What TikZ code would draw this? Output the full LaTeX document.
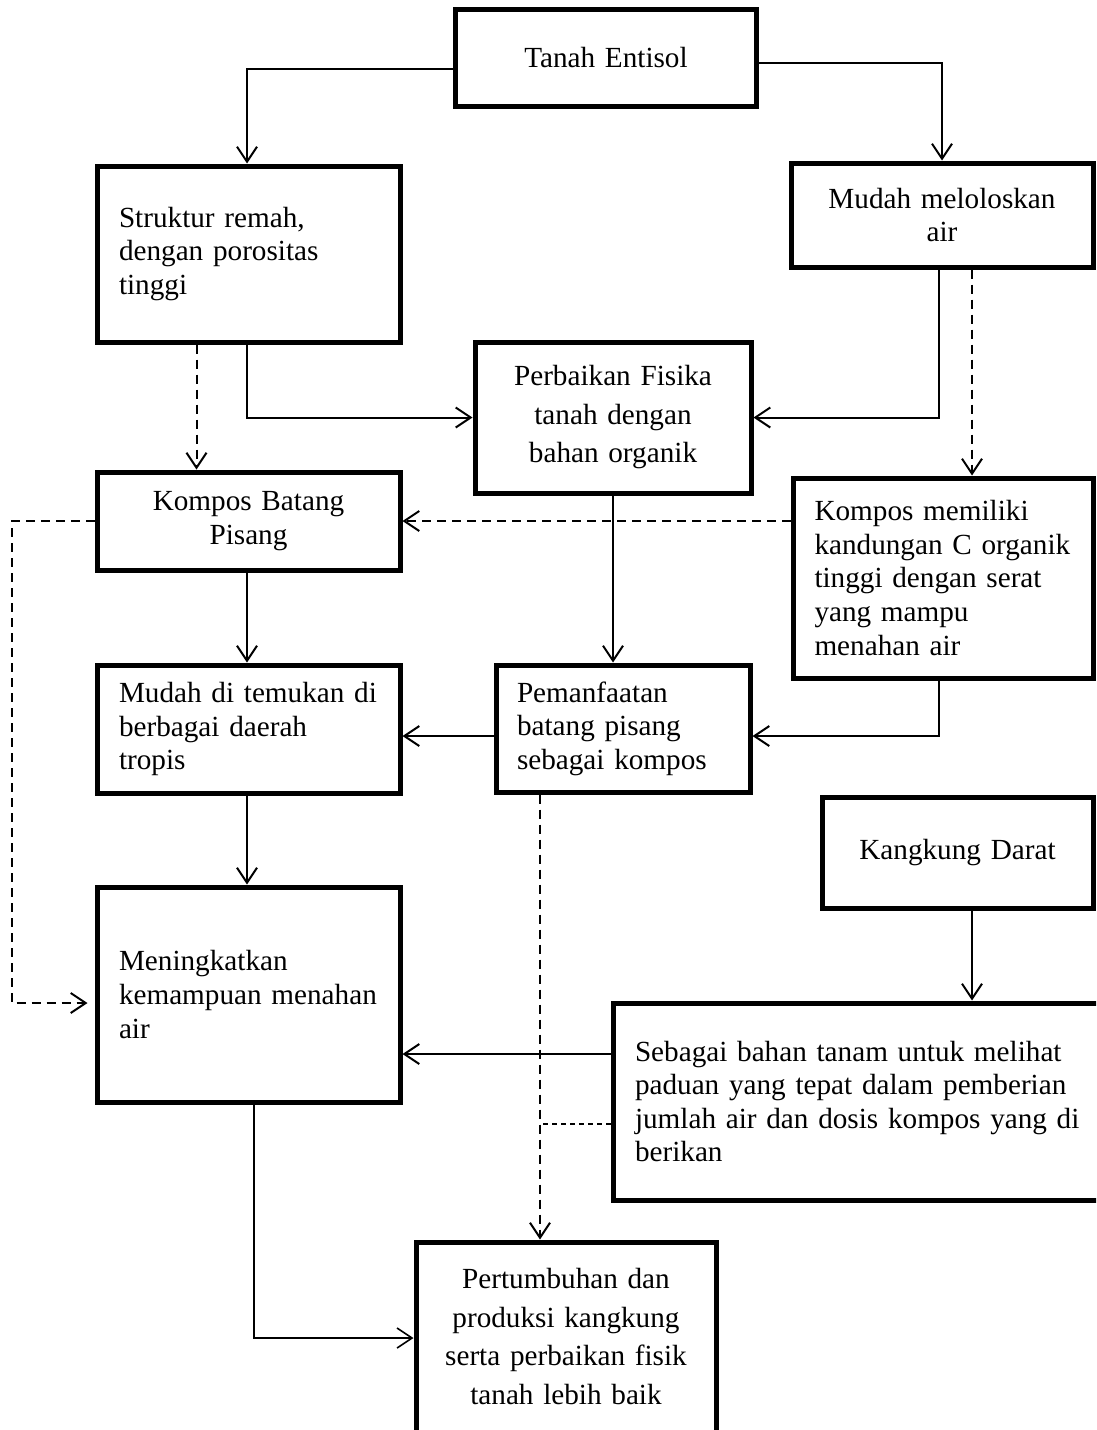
\documentclass[tikz,border=0pt]{standalone}
\usepackage{fontspec}
\setmainfont{Liberation Serif}
\usetikzlibrary{arrows.meta}
\begin{document}
\begin{tikzpicture}[x=1pt,y=-1pt,
  box/.style={draw,line width=5pt,inner xsep=0pt,inner ysep=0pt,
    font=\fontsize{29.2}{33.6}\selectfont},
  wide/.style={font=\fontsize{29.2}{38.5}\selectfont},
  conn/.style={line width=2pt,-{Straight Barb[length=15pt,width=20pt]}},
  dconn/.style={conn,dash pattern=on 9pt off 6pt},
  thindash/.style={line width=1.5pt,dash pattern=on 5pt off 4pt},
  ]
\useasboundingbox (0,0) rectangle (1096,1430);
\clip (0,0) rectangle (1096,1430);
\fill[white] (0,0) rectangle (1096,1430);

% boxes
\node[box,minimum width=301pt,minimum height=97pt,text width=260pt,align=center] (A) at (606,58) {Tanah Entisol};
\node[box,minimum width=303pt,minimum height=176pt,text width=259pt,align=left] (B) at (248.5,254) {Struktur remah,\\dengan porositas\\tinggi};
\node[box,minimum width=302pt,minimum height=104pt,text width=270pt,align=center] (C) at (942,215) {Mudah meloloskan\\air};
\node[box,wide,minimum width=276pt,minimum height=151pt,text width=250pt,align=center] (D) at (613,417.5) {Perbaikan Fisika\\tanah dengan\\bahan organik};
\node[box,minimum width=303pt,minimum height=98pt,text width=270pt,align=center] (E) at (248.5,521) {Kompos Batang\\Pisang};
\node[box,minimum width=300pt,minimum height=200pt,text width=257pt,align=left] (F) at (943,578) {Kompos memiliki\\kandungan C organik\\tinggi dengan serat\\yang mampu\\menahan air};
\node[box,minimum width=303pt,minimum height=128pt,text width=259pt,align=left] (G) at (248.5,729) {Mudah di temukan di\\berbagai daerah\\tropis};
\node[box,minimum width=254pt,minimum height=127pt,text width=212pt,align=left] (H) at (623,728.5) {Pemanfaatan\\batang pisang\\sebagai kompos};
\node[box,minimum width=271pt,minimum height=111pt,text width=250pt,align=center] (I) at (957.5,852.5) {Kangkung Darat};
\node[box,minimum width=303pt,minimum height=215pt,text width=259pt,align=left] (J) at (248.5,994.5) {Meningkatkan\\kemampuan menahan\\air};
\node[box,minimum width=497pt,minimum height=197pt,text width=453pt,align=left] (K) at (861.5,1101.5) {Sebagai bahan tanam untuk melihat\\paduan yang tepat dalam pemberian\\jumlah air dan dosis kompos yang di\\berikan};
\node[box,wide,minimum width=300pt,minimum height=198pt,text width=270pt,text depth=125pt,align=center] (L) at (566,1341) {Pertumbuhan dan\\produksi kangkung\\serta perbaikan fisik\\tanah lebih baik};

\coordinate (vx) at ([xshift=-83pt]H.south);

% solid connectors
\draw[conn] ([yshift=-11pt]A.west) -| ([xshift=-1.5pt]B.north);
\draw[conn] ([yshift=-5pt]A.east) -| (C.north);
\draw[conn] ([xshift=-1.5pt]B.south) |- (D.west);
\draw[conn] ([xshift=-3pt]C.south) |- (D.east);
\draw[conn] (D.south) -- (D.south |- H.north);
\draw[conn] ([xshift=-1.5pt]E.south) -- ([xshift=-1.5pt]G.north);
\draw[conn] ([yshift=-7.5pt]H.west) -- ([yshift=-7.5pt]H.west -| G.east);
\draw[conn] ([xshift=-4pt]F.south) |- ([yshift=-7.5pt]H.east);
\draw[conn] ([xshift=-1.5pt]G.south) -- ([xshift=-1.5pt]J.north);
\draw[conn] ([xshift=14.5pt]I.south) -- ([xshift=14.5pt]I.south |- K.north);
\draw[conn] ([yshift=47.5pt]K.west) -- ([yshift=47.5pt]K.west -| J.east);
\draw[conn,line width=1.6pt] ([xshift=5.5pt]J.south) |- ([yshift=3pt]L.west);

% dashed connectors
\draw[dconn] ([xshift=-52pt]B.south) -- ([xshift=-52pt]E.north);
\draw[dconn] ([xshift=30pt]C.south) -- ([xshift=30pt]C.south |- F.north);
\draw[dconn] (E.east -| F.west) -- (E.east);
\draw[dconn,shorten >=7pt] (E.west) -- ++(-83,0) |- ([yshift=-8.5pt]J.west);
\draw[dconn] (vx) -- (vx |- L.north);
\draw[thindash] ([yshift=-22.5pt]K.west) -- ([yshift=-22.5pt]K.west -| vx);
\end{tikzpicture}
\end{document}
